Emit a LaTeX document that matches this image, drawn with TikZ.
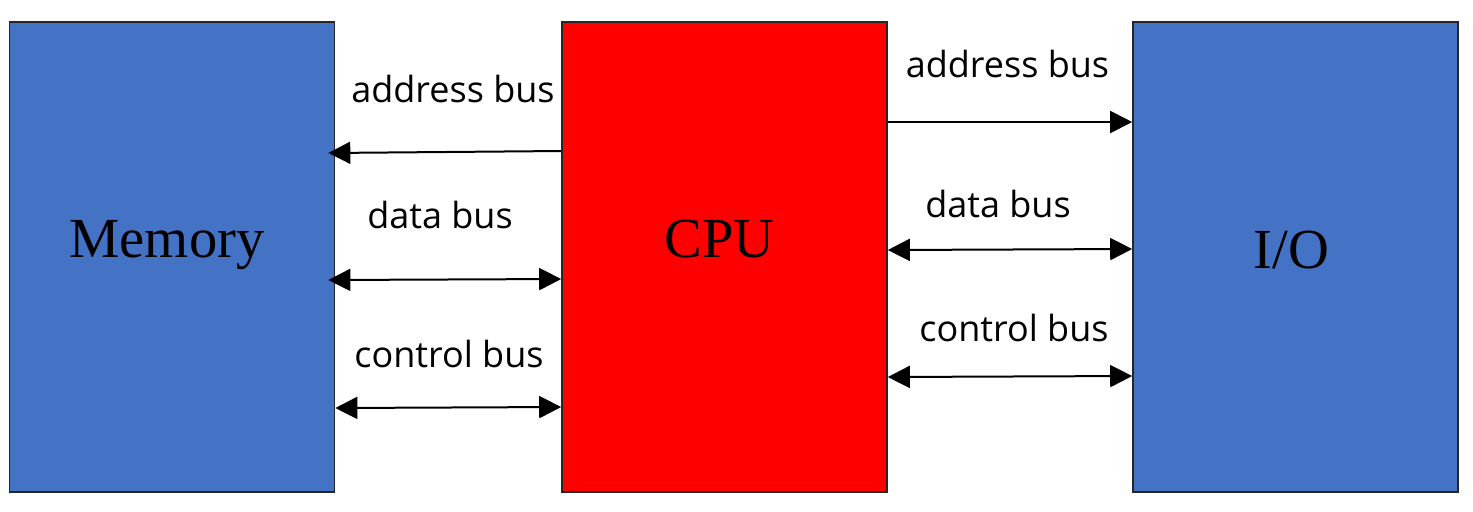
\documentclass[tikz,border=0pt]{standalone}
\usepackage{fontspec}
\setmainfont{Liberation Serif}
\newfontfamily\busfont{Open Sans}
\usetikzlibrary{arrows.meta}
\definecolor{unitblue}{HTML}{4472C4}
\definecolor{cpured}{HTML}{FF0000}
\definecolor{edgegray}{HTML}{262626}
\begin{document}
\begin{tikzpicture}[x=0.5pt,y=-0.5pt,
  unit/.style={draw=edgegray,line width=0.8pt,minimum width=162.5pt,minimum height=235pt,
    inner sep=0pt},
  unitname/.style={anchor=base,inner sep=0pt,font=\fontsize{28.3}{34}\selectfont},
  bus/.style={line width=1pt,-{Triangle[length=11pt,width=11pt]}},
  busboth/.style={line width=1pt,{Triangle[length=11pt,width=11pt]}-{Triangle[length=11pt,width=11pt]}},
  buslabel/.style={anchor=base,font=\busfont\fontsize{18}{22}\selectfont,inner sep=0pt}]
  \useasboundingbox[fill=white] (0,0) rectangle (1473,511);

  % the three units
  \node[unit,fill=unitblue] (mem) at (172,257) {};
  \node[unit,fill=cpured] (cpu) at (724.5,257) {};
  \node[unit,fill=unitblue] (io) at (1295.5,257) {};
  \node[unitname] (memname) at (167,257) {Memory};
  \node[unitname] (cpuname) at (719.5,257) {CPU};
  \node[unitname] (ioname) at (1291.5,268) {I/O};

  % buses between memory and CPU
  \draw[bus] (cpu.west |- 0,151) -- ([xshift=-3.5pt]mem.east |- 0,153);
  \draw[busboth] ([xshift=-3.5pt]mem.east |- 0,280) -- (cpu.west |- 0,279);
  \draw[busboth] (mem.east |- 0,408) -- (cpu.west |- 0,407);
  \node[buslabel] (la1) at (453,102) {address bus};
  \node[buslabel] (ld1) at (440,228) {data bus};
  \node[buslabel] (lc1) at (449,367) {control bus};

  % buses between CPU and I/O
  \draw[bus] (cpu.east |- 0,122) -- (io.west |- 0,122);
  \draw[busboth] (cpu.east |- 0,250) -- (io.west |- 0,249);
  \draw[busboth] (cpu.east |- 0,377) -- (io.west |- 0,376);
  \node[buslabel] (la2) at (1007.5,77) {address bus};
  \node[buslabel] (ld2) at (998,217) {data bus};
  \node[buslabel] (lc2) at (1014,341) {control bus};
\end{tikzpicture}
\end{document}
